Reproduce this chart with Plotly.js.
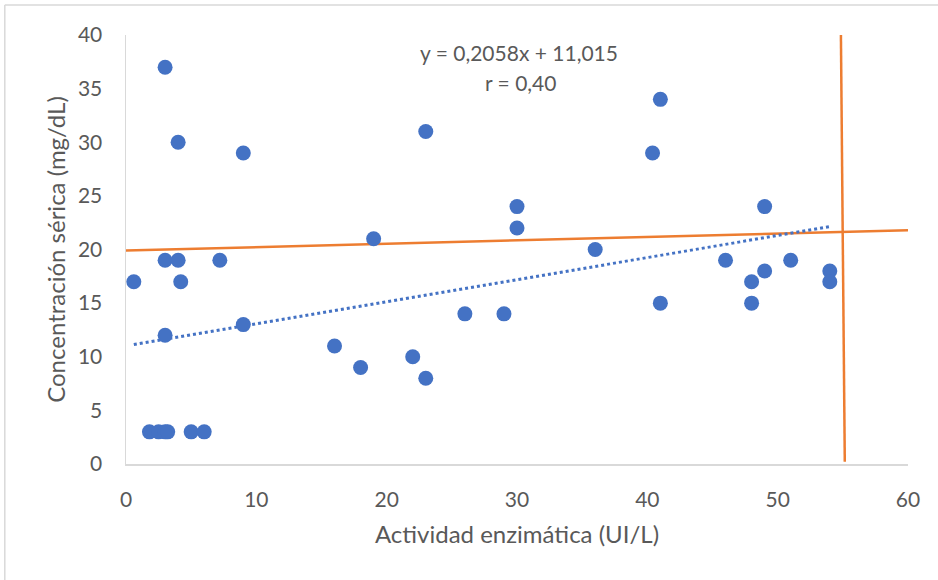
<!DOCTYPE html>
<html>
<head>
<meta charset="utf-8">
<script src="https://cdn.plot.ly/plotly-3.0.1.min.js"></script>
<style>html,body{margin:0;padding:0;background:#fff}#chart{width:938px;height:580px}</style>
</head>
<body>
<div id="chart"></div>
<script>
// Data points: enzymatic activity (UI/L) vs serum concentration (mg/dL)
const actividad = [3, 4, 9, 23, 19, 3, 4, 7.2, 0.6, 4.2, 9, 3, 16, 18, 22, 23,
  1.8, 2.5, 3.0, 3.2, 5, 6,
  30, 30, 36, 26, 29, 41, 40.4, 49, 46, 51, 49, 48, 48, 41, 54, 54];
const concentracion = [37, 30, 29, 31, 21, 19, 19, 19, 17, 17, 13, 12, 11, 9, 10, 8,
  3, 3, 3, 3, 3, 3,
  24, 22, 20, 14, 14, 34, 29, 24, 19, 19, 18, 17, 15, 15, 18, 17];

// Linear trendline coefficients (from chart label)
const slope = 0.2058;
const intercept = 11.015;

// Reference lines (orange)
const refHX = [0, 60];
const refHY = [19.9, 21.8];
const refVX = [54.85, 55.15];
const refVY = [40.3, 0.2];

const xTicks = [0, 10, 20, 30, 40, 50, 60];
const yTicks = [0, 5, 10, 15, 20, 25, 30, 35, 40];

const eqText = "y = 0,2058x + 11,015";
const rText = "r = 0,40";

const xMin = Math.min(...actividad), xMax = Math.max(...actividad);
const trendX = [xMin, xMax];
const trendY = trendX.map(v => slope * v + intercept);

const FONT = "Lato, 'Open Sans', sans-serif";
const GREY = "#595959";

const traces = [
  {x: refHX, y: refHY, mode: "lines", line: {color: "#ED7D31", width: 2.5}, hoverinfo: "skip"},
  {x: refVX, y: refVY, mode: "lines", line: {color: "#ED7D31", width: 2.5}, hoverinfo: "skip"},
  {x: trendX, y: trendY, mode: "lines", line: {color: "#4472C4", width: 3, dash: "dot"}, hoverinfo: "skip"},
  {x: actividad, y: concentracion, mode: "markers", marker: {color: "#4472C4", size: 15}}
];

const layout = {
  width: 938, height: 580,
  margin: {l: 126, r: 30, t: 35, b: 116},
  paper_bgcolor: "#fff", plot_bgcolor: "#fff",
  showlegend: false,
  font: {family: FONT, color: GREY, size: 21},
  xaxis: {
    range: [0, 60], tickvals: xTicks, ticktext: xTicks.map(String),
    showgrid: false, zeroline: false, showline: true, linecolor: "#D9D9D9", linewidth: 1.5,
    ticks: "", ticklabelstandoff: 16,
    tickfont: {family: FONT, size: 21, color: GREY},
    title: {text: "Actividad enzimática (UI/L)", font: {family: FONT, size: 24, color: GREY}, standoff: 16}
  },
  yaxis: {
    range: [0, 40], tickvals: yTicks, ticktext: yTicks.map(String),
    showgrid: false, zeroline: false, showline: true, linecolor: "#D9D9D9", linewidth: 1.5,
    ticks: "", ticklabelstandoff: 18,
    tickfont: {family: FONT, size: 21, color: GREY},
    title: {text: "Concentración sérica (mg/dL)", font: {family: FONT, size: 24, color: GREY}, standoff: 5}
  },
  annotations: [
    {xref: "paper", yref: "paper", x: 0.502, y: 1.0, yanchor: "middle", xanchor: "center",
     text: eqText, showarrow: false, font: {family: FONT, size: 21, color: GREY}, yshift: -17},
    {xref: "paper", yref: "paper", x: 0.504, y: 1.0, yanchor: "middle", xanchor: "center",
     text: rText, showarrow: false, font: {family: FONT, size: 21, color: GREY}, yshift: -47}
  ],
  shapes: [
    {type: "line", xref: "paper", yref: "paper", x0: -0.155, x1: -0.155, y0: 1.07, y1: -0.4,
     line: {color: "#D9D9D9", width: 1.5}},
    {type: "line", xref: "paper", yref: "paper", x0: -0.155, x1: 1.1, y0: 1.07, y1: 1.07,
     line: {color: "#D9D9D9", width: 1.5}}
  ]
};

Plotly.newPlot("chart", traces, layout, {displayModeBar: false, staticPlot: true});
</script>
</body>
</html>
